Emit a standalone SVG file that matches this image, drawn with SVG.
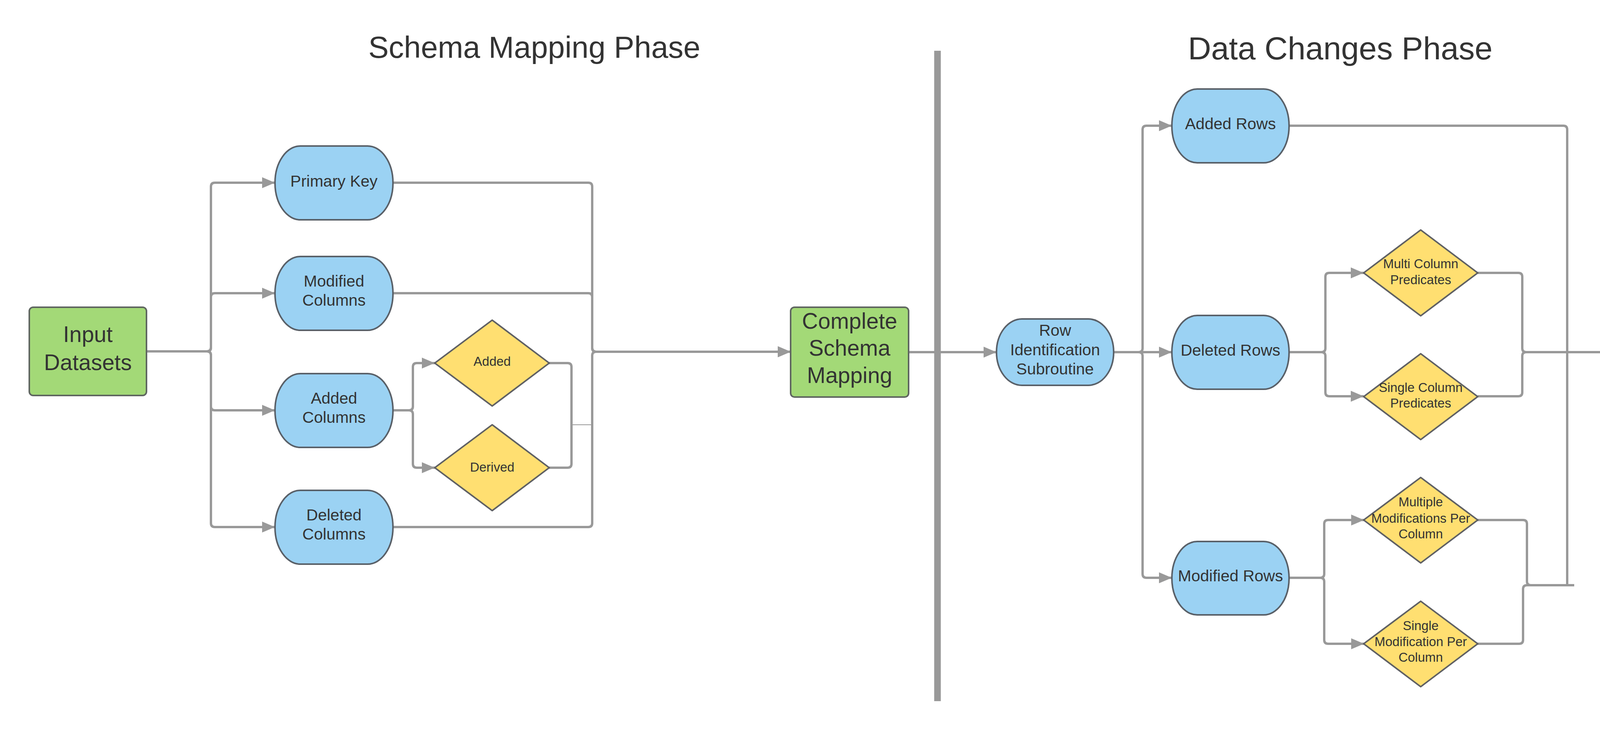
<svg xmlns="http://www.w3.org/2000/svg" width="5100" height="1875" viewBox="0 0 5100 1875">
<style>
  .bg{fill:#ffffff}
  .green{fill:#a3d977;stroke:#5f6660;stroke-width:4}
  .blue{fill:#9bd2f3;stroke:#596068;stroke-width:4}
  .yellow{fill:#ffdf71;stroke:#5f6063;stroke-width:4;stroke-linejoin:round}
  .conn{fill:none;stroke:#999999;stroke-width:6}
  .thin{fill:none;stroke:#999999;stroke-width:2}
  .sep{stroke:#999999;stroke-width:17}
  text{font-family:"Liberation Sans",Arial,sans-serif;fill:#333333;text-anchor:middle}
  .title{font-size:78px}
  .big{font-size:57px}
  .mid{font-size:41px}
  .small{font-size:33px}
</style>
<defs>
  <marker id="arrow" markerUnits="userSpaceOnUse" markerWidth="34" markerHeight="30" refX="33" refY="14" orient="auto">
    <path d="M0,0 L33,14 L0,28 Z" fill="#999999"/>
  </marker>
</defs>
<rect class="bg" x="0" y="0" width="5100" height="1875"/>

<g id="titles">
  <text class="title" x="1368" y="148">Schema Mapping Phase</text>
  <text class="title" x="3431" y="152" style="font-size:82px">Data Changes Phase</text>
</g>

<g id="connectors">
  <!-- Input -> columns -->
  <path class="conn" marker-end="url(#arrow)" d="M375,900 H530 Q540,900 540,890 V478 Q540,468 550,468 H704"/>
  <path class="conn" marker-end="url(#arrow)" d="M375,900 H530 Q540,900 540,890 V761 Q540,751 550,751 H704"/>
  <path class="conn" marker-end="url(#arrow)" d="M375,900 H530 Q540,900 540,910 V1041 Q540,1051 550,1051 H704"/>
  <path class="conn" marker-end="url(#arrow)" d="M375,900 H530 Q540,900 540,910 V1340 Q540,1350 550,1350 H704"/>
  <!-- Added Columns -> diamonds -->
  <path class="conn" marker-end="url(#arrow)" d="M1006,1051 H1047 Q1057,1051 1057,1041 V940 Q1057,930 1067,930 H1113"/>
  <path class="conn" marker-end="url(#arrow)" d="M1006,1051 H1047 Q1057,1051 1057,1061 V1188 Q1057,1198 1067,1198 H1113"/>
  <!-- diamonds collector -->
  <path class="conn" d="M1406,930 H1453 Q1463,930 1463,940 V1088"/>
  <path class="conn" d="M1406,1198 H1453 Q1463,1198 1463,1188 V1088"/>
  <path class="thin" d="M1463,1088 H1516"/>
  <!-- columns -> Complete Schema Mapping -->
  <path class="conn" marker-end="url(#arrow)" d="M1006,468 H1506 Q1516,468 1516,478 V891 Q1516,901 1526,901 H2024"/>
  <path class="conn" marker-end="url(#arrow)" d="M1006,751 H1506 Q1516,751 1516,761 V891 Q1516,901 1526,901 H2024"/>
  <path class="conn" marker-end="url(#arrow)" d="M1006,1350 H1506 Q1516,1350 1516,1340 V911 Q1516,901 1526,901 H2024"/>
  <!-- Complete -> Row Identification -->
  <path class="conn" marker-end="url(#arrow)" d="M2326,902 H2551"/>
  <!-- Row Identification -> rows -->
  <path class="conn" marker-end="url(#arrow)" d="M2851,902 H2915 Q2925,902 2925,892 V332 Q2925,322 2935,322 H3000"/>
  <path class="conn" marker-end="url(#arrow)" d="M2851,902 H3000"/>
  <path class="conn" marker-end="url(#arrow)" d="M2851,902 H2915 Q2925,902 2925,912 V1470 Q2925,1480 2935,1480 H3000"/>
  <!-- Deleted Rows -> predicates -->
  <path class="conn" marker-end="url(#arrow)" d="M3300,902 H3383 Q3393,902 3393,892 V709 Q3393,699 3403,699 H3491"/>
  <path class="conn" marker-end="url(#arrow)" d="M3300,902 H3383 Q3393,902 3393,912 V1005 Q3393,1015 3403,1015 H3491"/>
  <!-- predicates -> Final Result -->
  <path class="conn" marker-end="url(#arrow)" d="M3783,699 H3887 Q3897,699 3897,709 V892 Q3897,902 3907,902 H4724"/>
  <path class="conn" marker-end="url(#arrow)" d="M3783,1015 H3887 Q3897,1015 3897,1005 V912 Q3897,902 3907,902 H4724"/>
  <!-- Added Rows collector -->
  <path class="conn" d="M3300,322 H4002 Q4012,322 4012,332 V1499"/>
  <!-- Modified Rows -> modifications -->
  <path class="conn" marker-end="url(#arrow)" d="M3300,1480 H3380 Q3390,1480 3390,1470 V1342 Q3390,1332 3400,1332 H3492"/>
  <path class="conn" marker-end="url(#arrow)" d="M3300,1480 H3380 Q3390,1480 3390,1490 V1639 Q3390,1649 3400,1649 H3492"/>
  <path class="conn" d="M3782,1332 H3899 Q3909,1332 3909,1342 V1489 Q3909,1499 3919,1499 H4030"/>
  <path class="conn" d="M3782,1649 H3889 Q3899,1649 3899,1639 V1509 Q3899,1499 3909,1499 H4030"/>
</g>

<g id="separator">
  <line class="sep" x1="2400" y1="130" x2="2400" y2="1796"/>
</g>

<g id="input-datasets">
  <rect class="green" x="75" y="787" width="300" height="226" rx="10"/>
  <text class="big" x="225" y="876">Input</text>
  <text class="big" x="225" y="948">Datasets</text>
</g>

<g id="primary-key">
  <rect class="blue" x="704" y="374" width="302" height="189" rx="65" ry="94"/>
  <text class="mid" x="855" y="478">Primary Key</text>
</g>
<g id="modified-columns">
  <rect class="blue" x="704" y="657" width="302" height="189" rx="65" ry="94"/>
  <text class="mid" x="855" y="734">Modified</text>
  <text class="mid" x="855" y="783">Columns</text>
</g>
<g id="added-columns">
  <rect class="blue" x="704" y="957" width="302" height="189" rx="65" ry="94"/>
  <text class="mid" x="855" y="1034">Added</text>
  <text class="mid" x="855" y="1083">Columns</text>
</g>
<g id="deleted-columns">
  <rect class="blue" x="704" y="1256" width="302" height="189" rx="65" ry="94"/>
  <text class="mid" x="855" y="1333">Deleted</text>
  <text class="mid" x="855" y="1382">Columns</text>
</g>

<g id="added">
  <polygon class="yellow" points="1260,820 1406,930 1260,1040 1113,930"/>
  <text class="small" x="1260" y="937">Added</text>
</g>
<g id="derived">
  <polygon class="yellow" points="1260,1088 1406,1198 1260,1308 1113,1198"/>
  <text class="small" x="1260" y="1208">Derived</text>
</g>

<g id="complete-schema-mapping">
  <rect class="green" x="2024" y="787" width="302" height="230" rx="10"/>
  <text class="big" x="2175" y="842">Complete</text>
  <text class="big" x="2175" y="911">Schema</text>
  <text class="big" x="2175" y="981">Mapping</text>
</g>

<g id="row-identification">
  <rect class="blue" x="2551" y="817" width="300" height="170" rx="65" ry="85"/>
  <text class="mid" x="2701" y="860">Row</text>
  <text class="mid" x="2701" y="910">Identification</text>
  <text class="mid" x="2701" y="959">Subroutine</text>
</g>

<g id="added-rows">
  <rect class="blue" x="3000" y="228" width="300" height="189" rx="65" ry="94"/>
  <text class="mid" x="3150" y="331">Added Rows</text>
</g>
<g id="deleted-rows">
  <rect class="blue" x="3000" y="808" width="300" height="189" rx="65" ry="94"/>
  <text class="mid" x="3150" y="911">Deleted Rows</text>
</g>
<g id="modified-rows">
  <rect class="blue" x="3000" y="1387" width="300" height="188" rx="65" ry="94"/>
  <text class="mid" x="3150" y="1489">Modified Rows</text>
</g>

<g id="multi-column-predicates">
  <polygon class="yellow" points="3637,589 3783,699 3637,809 3491,699"/>
  <text class="small" x="3637" y="687">Multi Column</text>
  <text class="small" x="3637" y="728">Predicates</text>
</g>
<g id="single-column-predicates">
  <polygon class="yellow" points="3637,906 3783,1016 3637,1126 3491,1016"/>
  <text class="small" x="3637" y="1004">Single Column</text>
  <text class="small" x="3637" y="1044">Predicates</text>
</g>
<g id="multiple-modifications">
  <polygon class="yellow" points="3637,1223 3783,1332 3637,1442 3491,1332"/>
  <text class="small" x="3637" y="1297">Multiple</text>
  <text class="small" x="3637" y="1339">Modifications Per</text>
  <text class="small" x="3637" y="1379">Column</text>
</g>
<g id="single-modification">
  <polygon class="yellow" points="3637,1540 3783,1649 3637,1759 3491,1649"/>
  <text class="small" x="3637" y="1614">Single</text>
  <text class="small" x="3637" y="1655">Modification Per</text>
  <text class="small" x="3637" y="1695">Column</text>
</g>

<g id="final-result">
  <rect class="green" x="4724" y="789" width="301" height="226" rx="10"/>
  <text class="big" x="4875" y="879">Final</text>
  <text class="big" x="4875" y="948">Result</text>
</g>
</svg>
